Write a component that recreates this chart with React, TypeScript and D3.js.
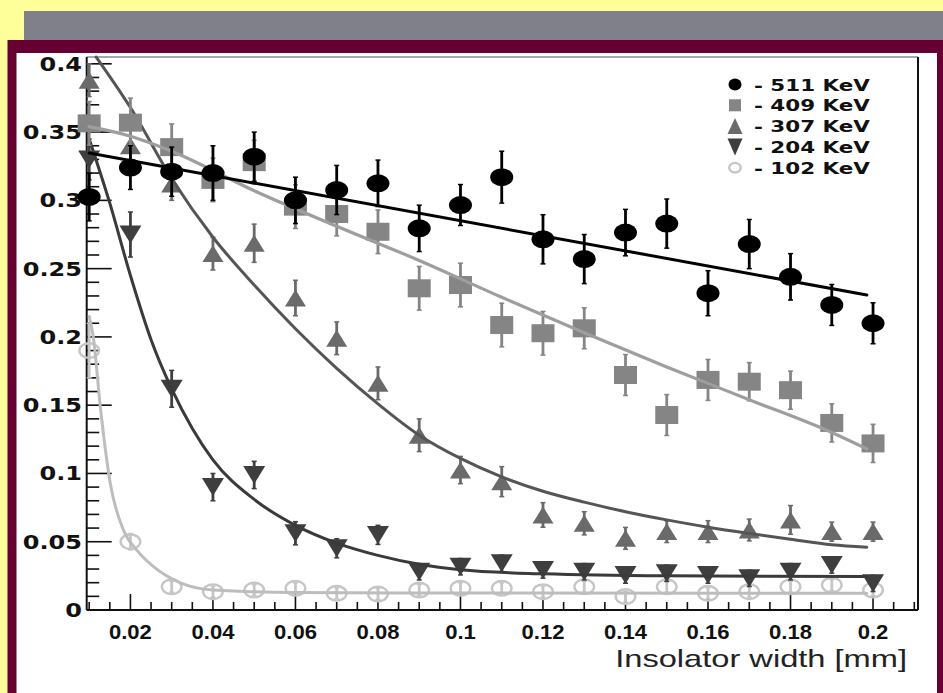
import React from 'react';
import * as d3 from 'd3';

// ---- data ----
const xValues = [0.01, 0.02, 0.03, 0.04, 0.05, 0.06, 0.07, 0.08, 0.09, 0.1, 0.11, 0.12, 0.13, 0.14, 0.15, 0.16, 0.17, 0.18, 0.19, 0.2];

const y511 = [0.3025, 0.324, 0.321, 0.32, 0.332, 0.3, 0.3076, 0.3125, 0.2795, 0.2966, 0.317, 0.2715, 0.257, 0.2764, 0.283, 0.232, 0.268, 0.244, 0.2234, 0.21];
const e511 = [0.0175, 0.016, 0.018, 0.02, 0.018, 0.017, 0.018, 0.017, 0.017, 0.015, 0.019, 0.018, 0.018, 0.017, 0.018, 0.0165, 0.018, 0.017, 0.015, 0.015];

const y409 = [0.3564, 0.3569, 0.339, 0.315, 0.328, 0.2954, 0.29, 0.277, 0.2356, 0.238, 0.2087, 0.2027, 0.2063, 0.1721, 0.1428, 0.1685, 0.1672, 0.161, 0.137, 0.122];
const e409 = [0.016, 0.018, 0.017, 0.016, 0.016, 0.016, 0.016, 0.016, 0.016, 0.016, 0.016, 0.016, 0.015, 0.015, 0.015, 0.015, 0.014, 0.014, 0.014, 0.014];

const y307 = [0.388, 0.34, 0.312, 0.261, 0.2686, 0.2285, 0.199, 0.166, 0.128, 0.1025, 0.094, 0.0696, 0.0635, 0.0525, 0.0574, 0.0574, 0.0586, 0.066, 0.0574, 0.0574];
const e307 = [0.012, 0.012, 0.012, 0.012, 0.014, 0.013, 0.012, 0.012, 0.012, 0.01, 0.011, 0.009, 0.0085, 0.008, 0.008, 0.008, 0.008, 0.0105, 0.007, 0.007];

const y204 = [0.33, 0.275, 0.162, 0.09, 0.0989, 0.0562, 0.0452, 0.055, 0.028, 0.0317, 0.0342, 0.0293, 0.028, 0.0256, 0.0269, 0.0256, 0.0232, 0.028, 0.033, 0.0195];
const e204 = [0.015, 0.0165, 0.0135, 0.01, 0.01, 0.0085, 0.007, 0.007, 0.006, 0.006, 0.006, 0.006, 0.006, 0.006, 0.006, 0.006, 0.006, 0.006, 0.006, 0.006];

const y102 = [0.19, 0.05, 0.017, 0.0134, 0.0146, 0.0159, 0.0122, 0.0117, 0.0146, 0.0159, 0.0159, 0.0134, 0.017, 0.0098, 0.017, 0.0122, 0.0134, 0.017, 0.0183, 0.0146];
const e102 = [0.02, 0.006, 0.004, 0.004, 0.004, 0.004, 0.004, 0.004, 0.004, 0.004, 0.004, 0.004, 0.004, 0.004, 0.004, 0.004, 0.004, 0.004, 0.004, 0.004];

// fit curves
const fit511 = [[0.01, 0.3347], [0.1985, 0.2307]];
const fit409 = [[0.01, 0.354], [0.02, 0.347], [0.03, 0.336], [0.05, 0.307], [0.07, 0.281], [0.09, 0.256], [0.11, 0.229], [0.13, 0.203], [0.15, 0.178], [0.17, 0.154], [0.19, 0.13], [0.1985, 0.118]];
const fit307 = [[0.0117, 0.405], [0.02, 0.368], [0.03, 0.316], [0.04, 0.273], [0.05, 0.238], [0.06, 0.206], [0.07, 0.177], [0.08, 0.151], [0.09, 0.128], [0.1, 0.111], [0.11, 0.0975], [0.12, 0.087], [0.13, 0.079], [0.14, 0.072], [0.15, 0.066], [0.16, 0.0606], [0.17, 0.056], [0.18, 0.0518], [0.19, 0.0478], [0.1985, 0.046]];
const fit204 = [[0.01, 0.345], [0.015, 0.298], [0.02, 0.245], [0.025, 0.198], [0.03, 0.162], [0.035, 0.133], [0.04, 0.11], [0.05, 0.081], [0.06, 0.062], [0.07, 0.049], [0.08, 0.04], [0.09, 0.0335], [0.1, 0.0295], [0.12, 0.0265], [0.15, 0.025], [0.1985, 0.0245]];
const fit102 = [[0.01, 0.215], [0.011, 0.2], [0.0127, 0.149], [0.0151, 0.093], [0.0183, 0.0586], [0.0215, 0.044], [0.0256, 0.0317], [0.032, 0.02], [0.04, 0.0146], [0.06, 0.0128], [0.1, 0.0124], [0.1985, 0.0122]];

const xTickValues = [0.02, 0.04, 0.06, 0.08, 0.1, 0.12, 0.14, 0.16, 0.18, 0.2];
const xTickLabels = ['0.02', '0.04', '0.06', '0.08', '0.1', '0.12', '0.14', '0.16', '0.18', '0.2'];
const yTickValues = [0, 0.05, 0.1, 0.15, 0.2, 0.25, 0.3, 0.35, 0.4];
const yTickLabels = ['0', '0.05', '0.1', '0.15', '0.2', '0.25', '0.3', '0.35', '0.4'];
const legendLabels = ['- 511 KeV', '- 409 KeV', '- 307 KeV', '- 204 KeV', '- 102 KeV'];
const xTitle = 'Insolator width [mm]';

// ---- layout & styles ----
const W = 943, H = 693;
const frame = { x0: 86.7, x1: 918, y0: 57, y1: 610 };

type Shape = 'circle' | 'square' | 'up' | 'down' | 'open';

const series = [
  { key: '102', ys: y102, es: e102, fit: fit102, shape: 'open' as Shape, color: '#c6c6c6', line: '#bdbdbd', lw: 3 },
  { key: '204', ys: y204, es: e204, fit: fit204, shape: 'down' as Shape, color: '#3e3e3e', line: '#3a3a3a', lw: 3 },
  { key: '307', ys: y307, es: e307, fit: fit307, shape: 'up' as Shape, color: '#6a6a6a', line: '#555555', lw: 3 },
  { key: '409', ys: y409, es: e409, fit: fit409, shape: 'square' as Shape, color: '#858585', line: '#9e9e9e', lw: 3.2 },
  { key: '511', ys: y511, es: e511, fit: fit511, shape: 'circle' as Shape, color: '#000000', line: '#000000', lw: 3 },
];
const legendOrder = ['511', '409', '307', '204', '102'];

function Marker({ shape, cx, cy, w, h, color }: { shape: Shape; cx: number; cy: number; w: number; h: number; color: string }) {
  if (shape === 'circle') return <ellipse cx={cx} cy={cy} rx={w} ry={h} fill={color} />;
  if (shape === 'open') return <ellipse cx={cx} cy={cy} rx={w - 1.2} ry={h - 1.2} fill="none" stroke={color} strokeWidth={2.4} />;
  if (shape === 'square') return <rect x={cx - w} y={cy - h} width={2 * w} height={2 * h} fill={color} />;
  if (shape === 'up') return <path d={`M${cx - w},${cy + h}L${cx + w},${cy + h}L${cx},${cy - h}Z`} fill={color} />;
  return <path d={`M${cx - w},${cy - h}L${cx + w},${cy - h}L${cx},${cy + h}Z`} fill={color} />;
}

const markerSize: Record<Shape, [number, number]> = {
  circle: [11.5, 9],
  square: [11.5, 9],
  up: [10.5, 8.5],
  down: [11, 9],
  open: [11, 8.5],
};
const legendSize: Record<Shape, [number, number]> = {
  circle: [6.5, 6],
  square: [6, 6],
  up: [7.5, 8],
  down: [7.5, 8.5],
  open: [7, 6],
};

export default function App() {
  const x = d3.scaleLinear().domain([0.0094, 0.2109]).range([frame.x0, frame.x1]);
  const y = d3.scaleLinear().domain([0, 0.405]).range([frame.y1, frame.y0]);
  const line = d3.line<number[]>().x(d => x(d[0])).y(d => y(d[1])).curve(d3.curveMonotoneX);

  const yMinor = d3.range(0, 0.4001, 0.01);
  const xMinor = d3.range(0.01, 0.2101, 0.005);

  return (
    <svg width={W} height={H} viewBox={`0 0 ${W} ${H}`} style={{ position: 'absolute', left: 0, top: 0, display: 'block' }}>
      {/* page background */}
      <rect x={0} y={0} width={W} height={H} fill="#ffff99" />
      <rect x={24} y={11} width={W - 24} height={29} fill="#80808a" />
      <rect x={7.5} y={40} width={W - 7.5} height={H - 40} fill="#660033" />
      <rect x={16.5} y={53} width={937 - 16.5} height={H - 53} fill="#ffffff" />

      {/* frame */}
      <line x1={frame.x0} y1={frame.y0} x2={frame.x1} y2={frame.y0} stroke="#8a8a8a" strokeWidth={1.5} />
      <line x1={frame.x1} y1={frame.y0} x2={frame.x1} y2={frame.y1} stroke="#111" strokeWidth={2} />

      {/* y axis ticks */}
      {yMinor.map((v, i) => {
        const major = i % 5 === 0;
        return <line key={'ym' + i} x1={frame.x0} x2={frame.x0 + (major ? 25 : 12.5)} y1={y(v)} y2={y(v)} stroke="#111" strokeWidth={1.6} />;
      })}
      {/* x axis ticks */}
      {xMinor.map((v, i) => {
        const major = i % 4 === 2;
        return <line key={'xm' + i} x1={x(v)} x2={x(v)} y1={frame.y1} y2={frame.y1 - (major ? 16 : 8)} stroke="#111" strokeWidth={1.6} />;
      })}
      <line x1={frame.x0} y1={frame.y0} x2={frame.x0} y2={frame.y1} stroke="#111" strokeWidth={2} />
      <line x1={frame.x0} y1={frame.y1} x2={frame.x1} y2={frame.y1} stroke="#111" strokeWidth={2} />

      {/* y tick labels */}
      {yTickValues.map((v, i) => (
        <text key={'yl' + i} transform={`translate(82,${y(v) + 7}) scale(1.2,1)`} textAnchor="end"
          fontFamily="DejaVu Sans" fontWeight="bold" fontSize={20} fill="#111">{yTickLabels[i]}</text>
      ))}
      {/* x tick labels */}
      {xTickValues.map((v, i) => (
        <text key={'xl' + i} transform={`translate(${x(v)},639) scale(1.05,1)`} textAnchor="middle"
          fontFamily="Liberation Sans" fontWeight="bold" fontSize={21} fill="#111">{xTickLabels[i]}</text>
      ))}
      {/* x title */}
      <text transform={`translate(907,667) scale(1.36,1)`} textAnchor="end" fontFamily="Liberation Sans" fontSize={24} fill="#222">{xTitle}</text>

      {/* series */}
      {series.map(s => {
        const [mw, mh] = markerSize[s.shape];
        return (
          <g key={s.key}>
            {xValues.map((xv, i) => (
              <g key={i}>
                <line x1={x(xv)} x2={x(xv)} y1={y(s.ys[i] - s.es[i])} y2={y(Math.min(s.ys[i] + s.es[i], 0.405))} stroke={s.color} strokeWidth={2.8} />
                <line x1={x(xv) - 2.5} x2={x(xv) + 2.5} y1={y(s.ys[i] - s.es[i])} y2={y(s.ys[i] - s.es[i])} stroke={s.color} strokeWidth={1.5} />
                <line x1={x(xv) - 2.5} x2={x(xv) + 2.5} y1={y(Math.min(s.ys[i] + s.es[i], 0.405))} y2={y(Math.min(s.ys[i] + s.es[i], 0.405))} stroke={s.color} strokeWidth={1.5} />
                <Marker shape={s.shape} cx={x(xv)} cy={y(s.ys[i])} w={mw} h={mh} color={s.color} />
              </g>
            ))}
            <path d={line(s.fit) || ''} fill="none" stroke={s.line} strokeWidth={s.lw} strokeLinecap="round" />
          </g>
        );
      })}

      {/* legend */}
      {legendOrder.map((k, i) => {
        const s = series.find(d => d.key === k)!;
        const [lw, lh] = legendSize[s.shape];
        const cy = 84.5 + i * 20.8;
        return (
          <g key={'lg' + k}>
            <Marker shape={s.shape} cx={735} cy={cy} w={lw} h={lh} color={s.color} />
            <text transform={`translate(754,${cy + 6}) scale(1.3,1)`} fontFamily="DejaVu Sans" fontWeight="bold" fontSize={16.5} fill="#111">{legendLabels[i]}</text>
          </g>
        );
      })}
    </svg>
  );
}
